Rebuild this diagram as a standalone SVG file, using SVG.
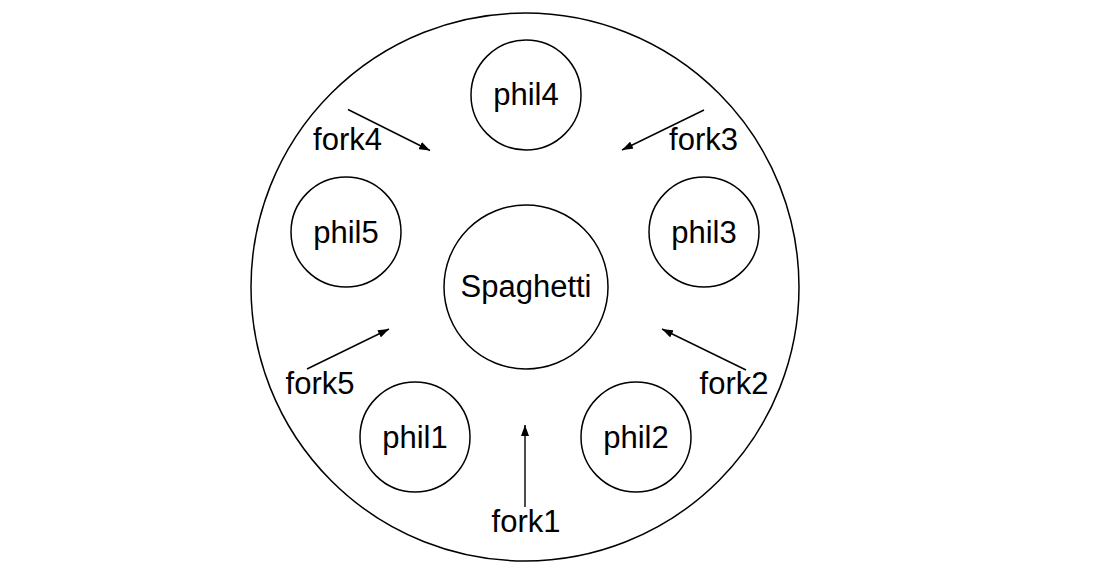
<svg xmlns="http://www.w3.org/2000/svg" width="1100" height="588" viewBox="0 0 1100 588">
<defs>
<marker id="ah" markerUnits="userSpaceOnUse" markerWidth="12" markerHeight="8" refX="11" refY="4" orient="auto">
<path d="M0,0 L11,4 L0,8 z" fill="#000"/>
</marker>
</defs>
<style>
.c{fill:none;stroke:#000;stroke-width:1.5}
.t{font-family:"Liberation Sans",Arial,sans-serif;font-size:31px;fill:#000;text-anchor:middle}
.a{stroke:#000;stroke-width:1.4;fill:none;marker-end:url(#ah)}
</style>
<rect width="1100" height="588" fill="#fff"/>
<g id="table"><circle class="c" cx="525" cy="287" r="274"/></g>
<g id="spaghetti"><circle class="c" cx="526" cy="287" r="82"/><text class="t" x="526" y="297">Spaghetti</text></g>
<g id="phil4"><circle class="c" cx="526" cy="95" r="55"/><text class="t" x="526" y="105">phil4</text></g>
<g id="phil5"><circle class="c" cx="346" cy="232" r="55"/><text class="t" x="346" y="243">phil5</text></g>
<g id="phil3"><circle class="c" cx="704" cy="232" r="55"/><text class="t" x="704" y="243">phil3</text></g>
<g id="phil1"><circle class="c" cx="415" cy="437" r="55"/><text class="t" x="415" y="448">phil1</text></g>
<g id="phil2"><circle class="c" cx="636" cy="437" r="55"/><text class="t" x="636" y="448">phil2</text></g>
<g id="connectors">
<line class="a" x1="348" y1="109.5" x2="430" y2="150.5"/>
<line class="a" x1="704" y1="110" x2="622" y2="150"/>
<line class="a" x1="307" y1="369" x2="389" y2="329"/>
<line class="a" x1="746" y1="370" x2="662" y2="329"/>
<line class="a" x1="525" y1="507" x2="525" y2="425"/>
</g>
<g id="labels">
<text class="t" x="347.5" y="150">fork4</text>
<text class="t" x="703.5" y="150">fork3</text>
<text class="t" x="320" y="394">fork5</text>
<text class="t" x="734" y="394">fork2</text>
<text class="t" x="526" y="532">fork1</text>
</g>
</svg>
